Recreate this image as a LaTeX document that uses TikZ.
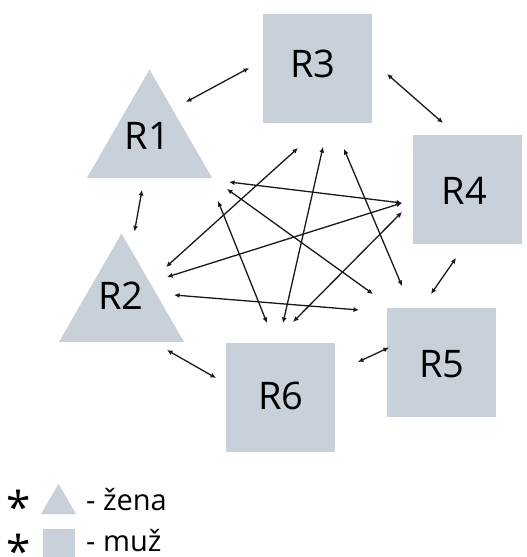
\documentclass[tikz,border=0pt]{standalone}
\usepackage{fontspec}
\setmainfont{Open Sans}
\usetikzlibrary{shapes.geometric,arrows.meta,calc}

\definecolor{shapefill}{HTML}{C8D0DA}

\begin{document}
\begin{tikzpicture}[x=1pt,y=-1pt,
  sq/.style={fill=shapefill, minimum size=109pt, inner sep=0pt, outer sep=0pt},
  tri/.style={regular polygon, regular polygon sides=3, fill=shapefill,
              minimum size=144.3pt, inner sep=0pt, outer sep=0pt},
  lbl/.style={font=\fontsize{38}{40}\selectfont, inner sep=0pt},
  legtext/.style={font=\fontsize{29}{32}\selectfont, inner sep=0pt, anchor=base west},
  star/.style={font=\fontsize{44}{46}\selectfont, inner sep=0pt, anchor=base},
  tip/.tip={Latex[length=5.5pt,width=5pt]},
  link/.style={tip-tip, line width=1.3pt, black!90},
]
\useasboundingbox (0,0) rectangle (527,557);

% people: women as triangles, men as squares
\node[tri] (R1) at (149.5,141.7) {};
\node[tri] (R2) at (121.5,305.7) {};
\node[sq]  (R3) at (317.5,68) {};
\node[sq]  (R4) at (467.5,189.5) {};
\node[sq]  (R5) at (441.5,362.5) {};
\node[sq]  (R6) at (280.5,397) {};

\node[lbl] (R1t) at (147.5,136) {R1};
\node[lbl] (R2t) at (121,296) {R2};
\node[lbl] (R3t) at (313,63.5) {R3};
\node[lbl] (R4t) at (464.5,190.5) {R4};
\node[lbl] (R5t) at (442,364) {R5};
\node[lbl] (R6t) at (281,395.5) {R6};

% relations between neighbours
\draw[link] ($(R1)+(36.5,-39.7)$) -- ($(R3)+(-68.5,0)$);
\draw[link] ($(R3)+(69.5,6)$) -- ($(R4)+(-24.5,-66.5)$);
\draw[link] ($(R1)+(-7.5,48.3)$) -- ($(R2)+(13,-74.2)$);
\draw[link] ($(R4)+(-11.5,68.5)$) -- ($(R5)+(-10.5,-68.5)$);
\draw[link] ($(R5)+(-52.5,-15)$) -- ($(R6)+(77.5,-35)$);
\draw[link] ($(R2)+(45.5,44.3)$) -- ($(R6)+(-64.5,-19)$);

% relations across the middle
\draw[link] ($(R3)+(-19.5,80)$) -- ($(R2)+(44.5,-38.7)$);
\draw[link] ($(R3)+(5.5,79)$) -- ($(R6)+(2.5,-74)$);
\draw[link] ($(R3)+(26.5,81)$) -- ($(R5)+(-39.5,-76.5)$);
\draw[link] ($(R1)+(79.5,40.3)$) -- ($(R4)+(-65.5,13.5)$);
\draw[link] ($(R1)+(77.5,47.3)$) -- ($(R5)+(-68.5,-68.5)$);
\draw[link] ($(R1)+(68.5,59.3)$) -- ($(R6)+(-13.5,-74)$);
\draw[link] ($(R2)+(45.5,-28.7)$) -- ($(R4)+(-65.5,13.5)$);
\draw[link] ($(R4)+(-65.5,22.5)$) -- ($(R6)+(12.5,-75)$);
\draw[link] ($(R2)+(52.5,-10.7)$) -- ($(R5)+(-82.5,-52.5)$);

% legend (the asterisk glyph sits high, so it is lowered onto the line)
\node[star] (s1) at (18.5,510.5) {\raisebox{-13pt}[\height][0pt]{*}};
\node[star] (s2) at (18.5,554) {\raisebox{-13pt}[\height][0pt]{*}};
\node[regular polygon, regular polygon sides=3, fill=shapefill,
      minimum size=40.4pt, inner sep=0pt] (legF) at (58.5,503.9) {};
\node[fill=shapefill, minimum size=32pt, inner sep=0pt] (legM) at (59,545) {};
\node[legtext] (tF) at (86,510) {- žena};
\node[legtext] (tM) at (86,551) {- muž};
\end{tikzpicture}
\end{document}
